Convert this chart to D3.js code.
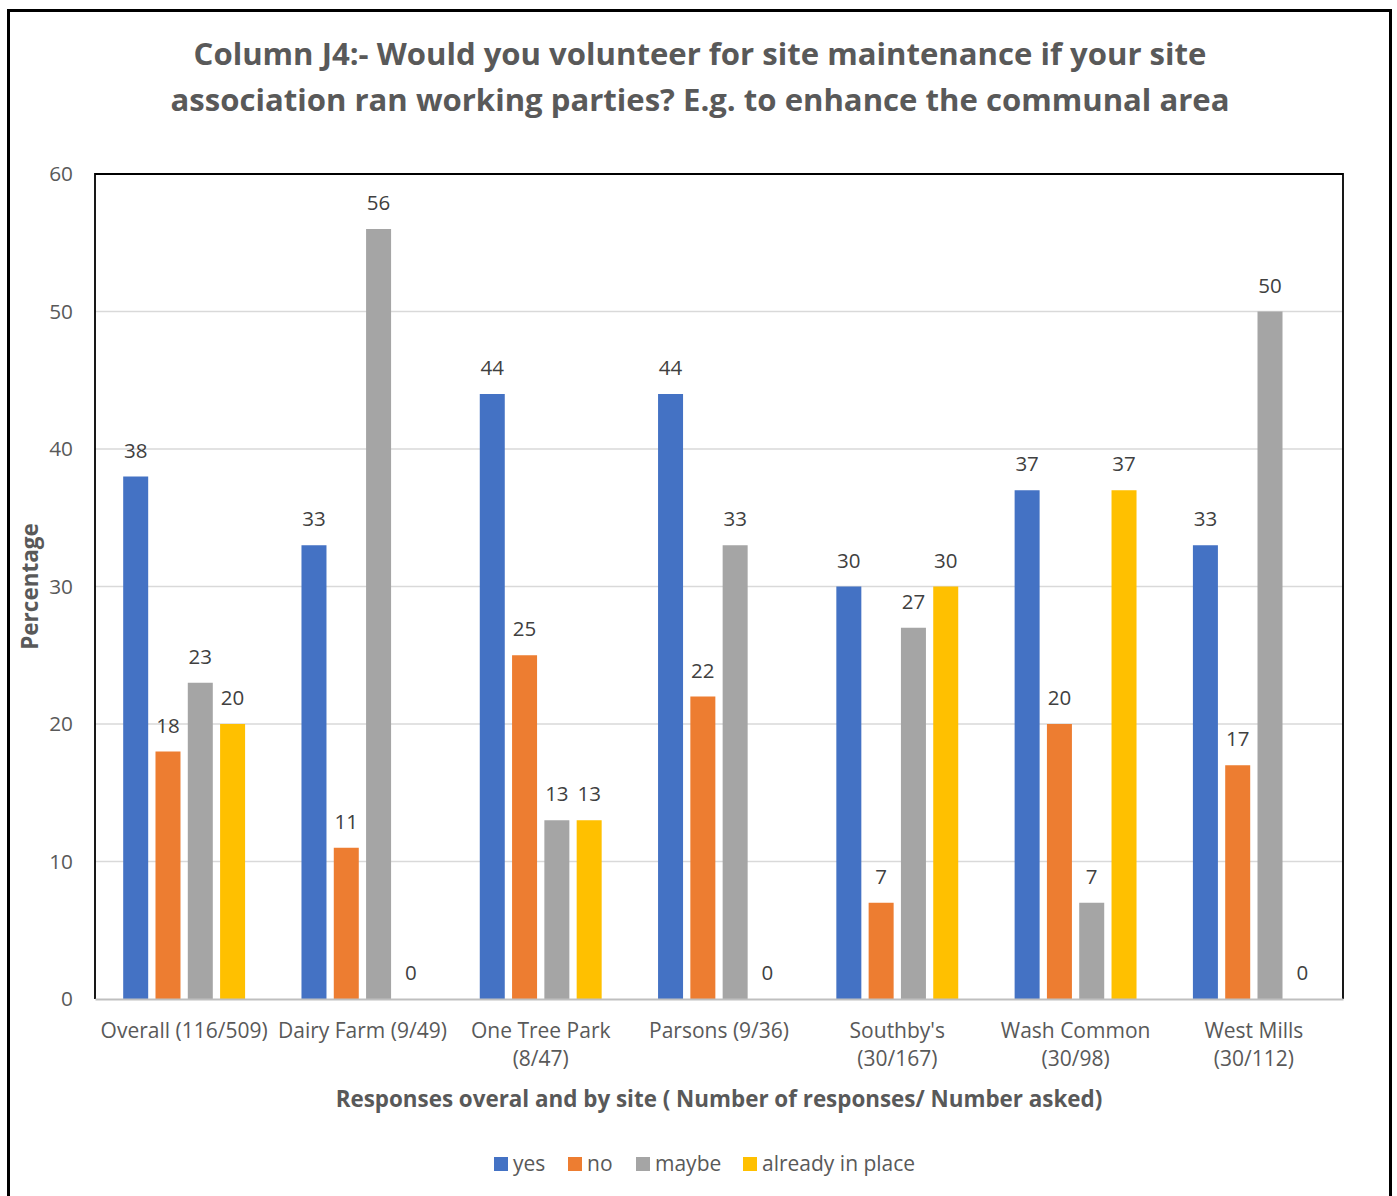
<!DOCTYPE html>
<html>
<head>
<meta charset="utf-8">
<script src="https://cdn.jsdelivr.net/npm/d3@7"></script>
<style>
  html, body { margin: 0; padding: 0; background: #fff; }
  svg { display: block; font-family: "Open Sans", sans-serif; }
</style>
</head>
<body>
<svg id="chart" width="1397" height="1196"></svg>
<script>
const categories = ["Overall (116/509)", "Dairy Farm (9/49)", "One Tree Park (8/47)", "Parsons (9/36)", "Southby's (30/167)", "Wash Common (30/98)", "West Mills (30/112)"];
const categoryLines = [["Overall (116/509)"], ["Dairy Farm (9/49)"], ["One Tree Park", "(8/47)"], ["Parsons (9/36)"], ["Southby's", "(30/167)"], ["Wash Common", "(30/98)"], ["West Mills", "(30/112)"]];
const seriesNames = ["yes", "no", "maybe", "already in place"];
const seriesColors = ["#4472C4", "#ED7D31", "#A5A5A5", "#FFC000"];
const yesValues = [38, 33, 44, 44, 30, 37, 33];
const noValues = [18, 11, 25, 22, 7, 20, 17];
const maybeValues = [23, 56, 13, 33, 27, 7, 50];
const alreadyValues = [20, 0, 13, 0, 30, 37, 0];
const yTicks = [0, 10, 20, 30, 40, 50, 60];
const titleLines = ["Column J4:- Would you volunteer for site maintenance if your site", "association ran working parties? E.g. to enhance the communal area"];
const xTitle = "Responses overal and by site ( Number of responses/ Number  asked)";
const yTitle = "Percentage";

const seriesValues = [yesValues, noValues, maybeValues, alreadyValues];

const svg = d3.select("#chart");
const L = 95, R = 1343, T = 174, B = 999;
const textCol = "#595959";

// outer border
svg.append("rect").attr("x", 8.5).attr("y", 10.5).attr("width", 1382).attr("height", 1200)
  .attr("fill", "none").attr("stroke", "#000").attr("stroke-width", 3);

// title
svg.append("text").attr("text-anchor", "middle").attr("fill", textCol)
  .attr("font-weight", "bold").attr("font-size", 31.1)
  .selectAll("tspan").data(titleLines).join("tspan")
  .attr("x", 700).attr("y", (d, i) => 65 + i * 46).text(d => d);

const y = d3.scaleLinear().domain([0, 60]).range([B, T]);
const x0 = d3.scaleBand().domain(categories).range([L, R]).padding(0);
const groupW = 129.2;
const x1 = d3.scaleBand().domain(seriesNames)
  .range([(x0.bandwidth() - groupW) / 2, (x0.bandwidth() + groupW) / 2])
  .paddingInner(0.226).paddingOuter(0.113);

// gridlines
svg.append("g").selectAll("line").data(yTicks.filter(t => t > 0 && t < 60)).join("line")
  .attr("x1", L).attr("x2", R).attr("y1", d => y(d)).attr("y2", d => y(d))
  .attr("stroke", "#d9d9d9").attr("stroke-width", 1.3);

// y axis labels
const yAxis = d3.axisLeft(y).tickValues(yTicks).tickSize(0).tickPadding(22);
const gy = svg.append("g").attr("transform", `translate(${L},0)`).call(yAxis);
gy.select(".domain").remove();
gy.selectAll("text").attr("font-size", 20.8).attr("fill", textCol).attr("font-family", "Open Sans");

// bars
const groups = svg.append("g").selectAll("g").data(categories).join("g")
  .attr("transform", d => `translate(${x0(d)},0)`);
groups.each(function(cat, ci) {
  const g = d3.select(this);
  seriesNames.forEach((s, si) => {
    const v = seriesValues[si][ci];
    g.append("rect").attr("x", x1(s)).attr("width", x1.bandwidth())
      .attr("y", y(v)).attr("height", y(0) - y(v)).attr("fill", seriesColors[si]);
    g.append("text").attr("x", x1(s) + x1.bandwidth() / 2).attr("y", y(v) - 19)
      .attr("text-anchor", "middle").attr("font-size", 20.5).attr("fill", "#404040").text(v);
  });
});

// plot border (left, top, right) black
svg.append("path").attr("d", `M${L},${B} V${T} H${R} V${B}`)
  .attr("fill", "none").attr("stroke", "#000").attr("stroke-width", 1.8);
// bottom axis gray
const xAxis = d3.axisBottom(x0).tickSize(0).tickPadding(0).tickFormat(() => "");
const gx = svg.append("g").attr("transform", `translate(0,${B})`).call(xAxis);
gx.select(".domain").attr("stroke", "#bfbfbf").attr("stroke-width", 2.2);
gx.selectAll(".tick text").each(function(d) {
  const lines = categoryLines[categories.indexOf(d)];
  d3.select(this).attr("font-size", 21).attr("fill", textCol).attr("font-family", "Open Sans")
    .selectAll("tspan").data(lines).join("tspan")
    .attr("x", 0).attr("y", (l, i) => 39 + i * 28).attr("dy", 0).text(l => l);
});
gx.selectAll(".tick text").attr("dy", 0);

// axis titles
svg.append("text").attr("x", (L + R) / 2).attr("y", 1107).attr("text-anchor", "middle")
  .attr("font-weight", "bold").attr("font-size", 22.4).attr("fill", textCol).text(xTitle);
svg.append("text").attr("transform", `translate(38,${(T + B) / 2}) rotate(-90)`)
  .attr("text-anchor", "middle").attr("font-weight", "bold").attr("font-size", 22.5)
  .attr("fill", textCol).text(yTitle);

// legend
const legendX = [494, 568, 636, 743];
const lg = svg.append("g").selectAll("g").data(seriesNames).join("g")
  .attr("transform", (d, i) => `translate(${legendX[i]},1157)`);
lg.append("rect").attr("width", 14).attr("height", 14).attr("fill", (d, i) => seriesColors[i]);
lg.append("text").attr("x", 19).attr("y", 14).attr("font-size", 21).attr("fill", textCol).text(d => d);
</script>
</body>
</html>
